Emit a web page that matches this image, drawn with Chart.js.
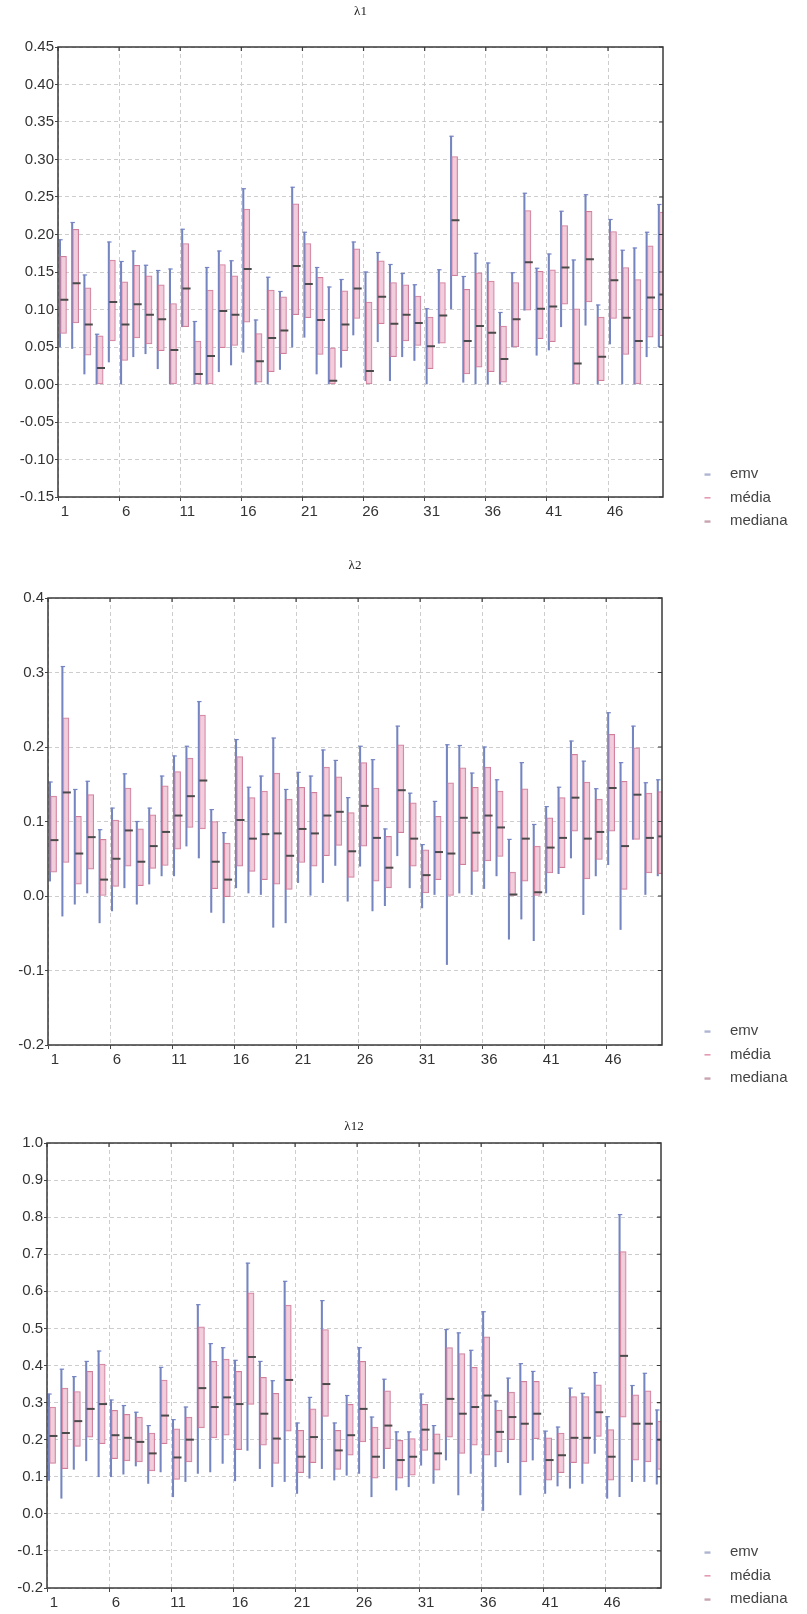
<!DOCTYPE html>
<html>
<head>
<meta charset="utf-8">
<script src="https://cdn.jsdelivr.net/npm/chart.js@4.4.1/dist/chart.umd.min.js"></script>
<style>
html,body{margin:0;padding:0;background:#fff;width:807px;height:1614px;overflow:hidden;}
.panel{position:absolute;left:0;width:807px;}
</style>
</head>
<body>
<div class="panel" style="top:0px;height:540px"><canvas id="c1"></canvas></div>
<div class="panel" style="top:545px;height:543px"><canvas id="c2"></canvas></div>
<div class="panel" style="top:1090px;height:524px"><canvas id="c3"></canvas></div>
<script>
// ---------- data ----------
const indices = [1,2,3,4,5,6,7,8,9,10,11,12,13,14,15,16,17,18,19,20,21,22,23,24,25,26,27,28,29,30,31,32,33,34,35,36,37,38,39,40,41,42,43,44,45,46,47,48,49,50];
const xTickValues = [1,6,11,16,21,26,31,36,41,46];
const seriesNames = ['emv','média','mediana'];
const panelTitles = ['λ1','λ2','λ12'];

const l1YTicks = [-0.15,-0.10,-0.05,0.00,0.05,0.10,0.15,0.20,0.25,0.30,0.35,0.40,0.45];
const l2YTicks = [-0.2,-0.1,0.0,0.1,0.2,0.3,0.4];
const l12YTicks = [-0.2,-0.1,0.0,0.1,0.2,0.3,0.4,0.5,0.6,0.7,0.8,0.9,1.0];

// λ1
const l1EmvLo  = [0.050,0.048,0.014,0.000,0.030,0.000,0.037,0.041,0.021,0.000,0.077,0.000,0.000,0.017,0.026,0.043,0.000,0.000,0.020,0.050,0.063,0.014,0.000,0.023,0.066,0.005,0.057,0.005,0.037,0.032,0.000,0.055,0.101,0.003,0.000,0.000,0.000,0.050,0.099,0.039,0.046,0.077,0.000,0.079,0.000,0.054,0.000,0.000,0.037,0.050];
const l1EmvHi  = [0.193,0.216,0.146,0.067,0.190,0.164,0.178,0.159,0.152,0.154,0.207,0.084,0.156,0.178,0.165,0.261,0.086,0.143,0.124,0.263,0.203,0.156,0.130,0.140,0.190,0.150,0.176,0.160,0.148,0.133,0.101,0.153,0.331,0.144,0.175,0.162,0.096,0.149,0.255,0.155,0.174,0.231,0.166,0.253,0.106,0.220,0.179,0.182,0.203,0.240];
const l1MediaLo = [0.068,0.082,0.039,0.000,0.058,0.032,0.062,0.054,0.045,0.000,0.077,0.000,0.000,0.049,0.052,0.083,0.003,0.017,0.041,0.093,0.089,0.040,0.000,0.045,0.088,0.000,0.081,0.037,0.058,0.052,0.021,0.055,0.145,0.014,0.023,0.017,0.003,0.050,0.099,0.061,0.057,0.107,0.000,0.110,0.005,0.088,0.040,0.000,0.063,0.065];
const l1MediaHi = [0.171,0.207,0.129,0.065,0.166,0.137,0.159,0.145,0.133,0.108,0.188,0.058,0.126,0.160,0.145,0.234,0.068,0.126,0.117,0.241,0.188,0.143,0.049,0.125,0.181,0.110,0.165,0.136,0.133,0.118,0.090,0.136,0.304,0.127,0.149,0.138,0.078,0.136,0.232,0.151,0.153,0.212,0.101,0.231,0.090,0.204,0.156,0.140,0.185,0.230];
const l1Mediana = [0.113,0.135,0.080,0.022,0.110,0.080,0.107,0.093,0.087,0.046,0.128,0.014,0.038,0.098,0.093,0.154,0.031,0.062,0.072,0.158,0.134,0.086,0.005,0.080,0.128,0.018,0.117,0.081,0.093,0.082,0.051,0.092,0.219,0.058,0.078,0.069,0.034,0.087,0.163,0.101,0.104,0.156,0.028,0.167,0.037,0.139,0.089,0.058,0.116,0.120];

// λ2
const l2EmvLo  = [0.020,-0.027,-0.011,0.004,-0.036,-0.020,0.011,-0.011,0.016,0.027,0.027,0.067,0.051,-0.022,-0.036,0.011,0.004,0.002,-0.042,-0.036,0.018,0.001,0.018,0.041,-0.007,0.040,-0.020,-0.013,0.054,0.011,-0.016,0.002,-0.092,0.004,0.002,0.010,0.027,-0.058,-0.031,-0.060,0.004,0.030,0.051,-0.025,0.027,0.042,-0.045,0.076,0.002,0.027];
const l2EmvHi  = [0.153,0.308,0.143,0.154,0.089,0.118,0.164,0.100,0.118,0.161,0.188,0.201,0.261,0.116,0.085,0.210,0.146,0.161,0.212,0.143,0.166,0.161,0.196,0.182,0.132,0.201,0.183,0.090,0.228,0.138,0.069,0.127,0.203,0.202,0.165,0.200,0.156,0.076,0.179,0.096,0.120,0.146,0.208,0.181,0.144,0.246,0.179,0.228,0.152,0.156];
const l2MediaLo = [0.032,0.045,0.016,0.036,0.000,0.013,0.040,0.014,0.037,0.041,0.063,0.092,0.090,0.010,-0.001,0.040,0.033,0.022,0.016,0.009,0.045,0.040,0.054,0.068,0.025,0.067,0.020,0.011,0.085,0.040,0.004,0.022,0.000,0.042,0.033,0.047,0.053,0.000,0.020,0.000,0.031,0.038,0.087,0.023,0.049,0.087,0.009,0.076,0.031,0.030];
const l2MediaHi = [0.134,0.239,0.107,0.136,0.076,0.102,0.145,0.090,0.109,0.148,0.167,0.185,0.243,0.100,0.071,0.187,0.132,0.141,0.165,0.130,0.146,0.139,0.173,0.160,0.112,0.179,0.145,0.080,0.203,0.125,0.062,0.107,0.152,0.172,0.146,0.173,0.141,0.032,0.144,0.067,0.105,0.132,0.190,0.153,0.130,0.217,0.154,0.199,0.138,0.140];
const l2Mediana = [0.075,0.139,0.057,0.079,0.022,0.050,0.088,0.046,0.067,0.086,0.108,0.134,0.155,0.046,0.022,0.102,0.077,0.083,0.084,0.054,0.090,0.084,0.108,0.113,0.060,0.121,0.078,0.038,0.142,0.077,0.028,0.059,0.057,0.105,0.085,0.108,0.092,0.002,0.077,0.005,0.065,0.078,0.132,0.077,0.086,0.145,0.067,0.136,0.078,0.080];

// λ12
const l12EmvLo  = [0.090,0.042,0.120,0.143,0.100,0.100,0.107,0.129,0.082,0.113,0.046,0.087,0.109,0.113,0.136,0.089,0.171,0.122,0.073,0.087,0.055,0.096,0.122,0.091,0.104,0.109,0.046,0.122,0.064,0.073,0.131,0.082,0.145,0.051,0.109,0.009,0.127,0.138,0.051,0.145,0.055,0.075,0.069,0.082,0.163,0.042,0.046,0.087,0.087,0.080];
const l12EmvHi  = [0.323,0.390,0.370,0.411,0.439,0.307,0.292,0.274,0.238,0.395,0.254,0.288,0.564,0.459,0.448,0.414,0.676,0.411,0.359,0.627,0.245,0.314,0.575,0.245,0.319,0.448,0.261,0.363,0.221,0.221,0.323,0.238,0.497,0.488,0.441,0.545,0.304,0.366,0.405,0.384,0.223,0.234,0.339,0.325,0.381,0.262,0.807,0.346,0.379,0.280];
const l12MediaLo = [0.136,0.122,0.182,0.207,0.189,0.149,0.143,0.140,0.116,0.189,0.093,0.140,0.232,0.205,0.212,0.173,0.295,0.185,0.136,0.223,0.111,0.138,0.263,0.120,0.158,0.194,0.096,0.176,0.096,0.104,0.171,0.118,0.207,0.163,0.185,0.158,0.167,0.200,0.140,0.203,0.091,0.111,0.138,0.136,0.209,0.091,0.261,0.145,0.140,0.120];
const l12MediaHi = [0.288,0.339,0.330,0.384,0.404,0.279,0.268,0.261,0.218,0.361,0.229,0.261,0.504,0.411,0.417,0.384,0.596,0.368,0.325,0.563,0.225,0.283,0.497,0.225,0.295,0.411,0.234,0.332,0.198,0.203,0.295,0.216,0.448,0.432,0.395,0.477,0.280,0.328,0.357,0.357,0.205,0.218,0.316,0.316,0.348,0.227,0.707,0.321,0.332,0.250];
const l12Mediana = [0.210,0.218,0.250,0.283,0.296,0.212,0.205,0.194,0.163,0.265,0.152,0.200,0.339,0.288,0.314,0.296,0.423,0.270,0.203,0.361,0.154,0.207,0.350,0.171,0.212,0.283,0.154,0.238,0.145,0.154,0.227,0.163,0.310,0.270,0.288,0.319,0.221,0.261,0.243,0.270,0.145,0.158,0.205,0.205,0.274,0.154,0.426,0.243,0.243,0.200];

// ---------- styling ----------
const EMV_DX = 0.16, MEDIA_DX = 0.45, MEDIANA_DX = 0.52;
const COL_EMV = '#7585c2', COL_MEDIA_FILL = 'rgba(240,196,214,0.85)', COL_MEDIA_LINE = '#d07f9a', COL_MEDIANA = '#4a4a4a';
const LEG_COLORS = ['#9aa3c8','#e39ab2','#b98d9b'];
const FONT = "'Liberation Sans', Arial, Helvetica, sans-serif";

Chart.defaults.font.family = FONT;
Chart.defaults.color = '#333';

function dashImage(color){
  const c = document.createElement('canvas');
  c.width = 8; c.height = 3;
  const g = c.getContext('2d');
  g.fillStyle = color; g.fillRect(1,1,6,1.6);
  return c;
}

// frame round the plot area, with small inner ticks on the top and right sides
const framePlugin = {
  id: 'frame',
  afterDatasetsDraw(chart){
    const {ctx, chartArea:a, scales} = chart;
    ctx.save();
    ctx.strokeStyle = '#3a3a3a'; ctx.lineWidth = 1.5;
    ctx.strokeRect(a.left, a.top, a.right - a.left, a.bottom - a.top);
    ctx.lineWidth = 1.2;
    ctx.beginPath();
    scales.y.ticks.forEach(t => { const y = scales.y.getPixelForValue(t.value); ctx.moveTo(a.right, y); ctx.lineTo(a.right - 4, y); });
    scales.x.ticks.forEach(t => { const x = scales.x.getPixelForValue(t.value); ctx.moveTo(x, a.top); ctx.lineTo(x, a.top + 4); });
    ctx.stroke();
    ctx.restore();
  }
};

const legendPlace = {
  id: 'legendPlace',
  beforeLayout(chart){
    const lg = chart.legend;
    const o = chart.options.plugins.legendPlace;
    if (lg && !lg.__patched){
      const orig = lg.fit;
      lg.fit = function(){ orig.call(this); this.width = o.width; };
      lg.__patched = true;
    }
  },
  afterLayout(chart){
    const lg = chart.legend;
    const o = chart.options.plugins.legendPlace;
    if (!lg) return;
    lg.left = o.x; lg.right = o.x + o.width;
    lg.top = o.y; lg.bottom = o.y + 200;
  }
};

function buildPanel(id, p){
  const ds = [
    { type:'bar', label:seriesNames[0], order:4, grouped:false, clip:0,
      data: indices.map((k,i)=>({x:k+EMV_DX, y:[p.emvLo[i], p.emvHi[i]]})),
      backgroundColor: COL_EMV, borderWidth:0, barThickness:1.4 },
    { type:'scatter', label:'cap', order:3, clip:0,
      data: indices.map((k,i)=>({x:k+EMV_DX+0.04, y:p.emvHi[i]})),
      pointStyle:'line', pointRadius:2.2, pointHoverRadius:2.2, borderColor:COL_EMV, borderWidth:1.2 },
    { type:'bar', label:seriesNames[1], order:2, grouped:false, clip:0,
      data: indices.map((k,i)=>({x:k+MEDIA_DX, y:[p.mediaLo[i], p.mediaHi[i]]})),
      backgroundColor: COL_MEDIA_FILL, borderColor: COL_MEDIA_LINE, borderWidth:1, borderSkipped:false, barThickness:6 },
    { type:'scatter', label:seriesNames[2], order:1, clip:0,
      data: indices.map((k,i)=>({x:k+MEDIANA_DX, y:p.mediana[i]})),
      pointStyle:'line', pointRadius:4, pointHoverRadius:4, borderColor:COL_MEDIANA, borderWidth:2 }
  ];
  return new Chart(document.getElementById(id), {
    type:'bar',
    data:{ datasets: ds },
    options:{
      responsive:true, maintainAspectRatio:false, animation:false, devicePixelRatio:1,
      layout:{ padding:0 },
      events:[],
      plugins:{
        tooltip:{enabled:false},
        title:{ display:true, text:p.title, fullSize:false, color:'#222',
          font:{family:"'Liberation Serif', 'Times New Roman', serif", size:13, weight:'normal'},
          padding:{top:p.titleTop, bottom:p.titleBottom} },
        legend:{ display:true, position:'right', align:'start',
          labels:{ usePointStyle:true, pointStyleWidth:30, boxHeight:4, padding:8.5, color:'#444',
            font:{size:15, family:FONT},
            generateLabels(){ return seriesNames.map((n,i)=>({ text:n, pointStyle:dashImage(LEG_COLORS[i]), fillStyle:LEG_COLORS[i], strokeStyle:LEG_COLORS[i], lineWidth:0, hidden:false, fontColor:'#444', datasetIndex:i })); } } },
        legendPlace:{ x:684, y:p.legendY, width:807 - p.right }
      },
      scales:{
        x:{ type:'linear', min:1, max:50.5, offset:false,
          afterBuildTicks(s){ s.ticks = xTickValues.map(v=>({value:v})); },
          afterFit(s){ s.height = p.xH; },
          ticks:{ autoSkip:false, maxRotation:0, padding:2, labelOffset:7, color:'#333', font:{size:15}, callback:(v)=>String(v) },
          grid:{ offset:false, color:'#cdcdcd', lineWidth:1, tickLength:4, tickColor:'#444', tickWidth:1 },
          border:{ display:false, dash:[4,3] } },
        y:{ type:'linear', min:p.yTicks[0], max:p.yTicks[p.yTicks.length-1],
          afterBuildTicks(s){ s.ticks = p.yTicks.map(v=>({value:v})); },
          afterFit(s){ s.width = p.left; },
          ticks:{ padding:1, color:'#333', font:{size:15}, callback:(v)=>Number(v).toFixed(p.dec) },
          grid:{ color:'#cdcdcd', lineWidth:1, tickLength:3, tickColor:'#444', tickWidth:1 },
          border:{ display:false, dash:[4,3] } }
      }
    },
    plugins:[framePlugin, legendPlace]
  });
}

buildPanel('c1', { title:panelTitles[0], emvLo:l1EmvLo, emvHi:l1EmvHi, mediaLo:l1MediaLo, mediaHi:l1MediaHi, mediana:l1Mediana,
  yTicks:l1YTicks, dec:2, left:58, right:663, xH:43, titleTop:4, titleBottom:27.4, legendY:474-16 });
buildPanel('c2', { title:panelTitles[1], emvLo:l2EmvLo, emvHi:l2EmvHi, mediaLo:l2MediaLo, mediaHi:l2MediaHi, mediana:l2Mediana,
  yTicks:l2YTicks, dec:1, left:48, right:662, xH:43, titleTop:13.2, titleBottom:24.2, legendY:486-16 });
buildPanel('c3', { title:panelTitles[2], emvLo:l12EmvLo, emvHi:l12EmvHi, mediaLo:l12MediaLo, mediaHi:l12MediaHi, mediana:l12Mediana,
  yTicks:l12YTicks, dec:1, left:47, right:661, xH:26, titleTop:29.2, titleBottom:8.2, legendY:462-16 });
</script>
</body>
</html>
